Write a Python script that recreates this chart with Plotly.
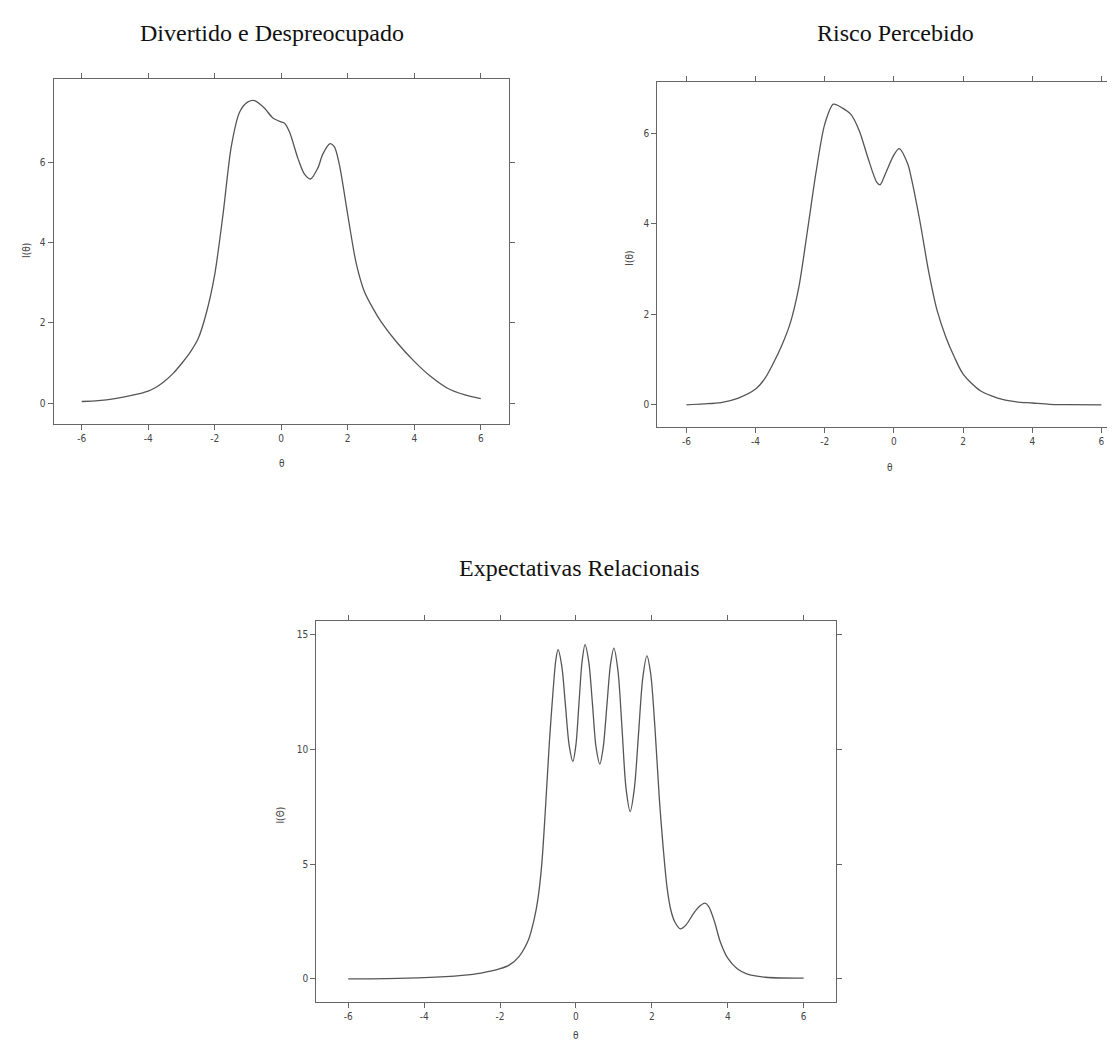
import plotly.graph_objects as go

W, H = 1115, 1043

# ---------------- data ----------------
titles = ["Divertido e Despreocupado", "Risco Percebido", "Expectativas Relacionais"]

theta1 = [-6, -5.5, -5, -4.5, -4, -3.75, -3.5, -3.25, -3, -2.75, -2.5, -2.25, -2, -1.75,
          -1.5, -1.25, -1.0, -0.8, -0.5, -0.25, 0, 0.1, 0.25, 0.5, 0.7, 0.88, 1.1, 1.25,
          1.47, 1.6, 1.75, 2.0, 2.25, 2.5, 2.75, 3, 3.5, 4, 4.5, 5, 5.5, 6]
info1 = [0.04, 0.06, 0.11, 0.19, 0.3, 0.4, 0.55, 0.74, 0.98, 1.25, 1.6, 2.25, 3.2, 4.7,
         6.4, 7.25, 7.5, 7.53, 7.34, 7.1, 7.0, 6.97, 6.75, 6.1, 5.7, 5.58, 5.85, 6.2,
         6.46, 6.38, 5.93, 4.69, 3.5, 2.78, 2.37, 2.03, 1.49, 1.04, 0.66, 0.37, 0.21, 0.11]

theta2 = [-6, -5.5, -5, -4.5, -4, -3.75, -3.5, -3.25, -3, -2.75, -2.5, -2.25, -2, -1.75,
          -1.5, -1.25, -1.0, -0.75, -0.5, -0.4, -0.25, 0, 0.15, 0.4, 0.5, 0.75, 1.0,
          1.25, 1.5, 1.75, 2, 2.5, 3, 3.5, 4, 4.5, 5, 6]
info2 = [0.0, 0.02, 0.05, 0.15, 0.35, 0.56, 0.9, 1.3, 1.8, 2.6, 3.85, 5.15, 6.2, 6.64,
         6.56, 6.42, 6.05, 5.45, 4.92, 4.86, 5.1, 5.52, 5.66, 5.32, 5.02, 4.06, 2.96,
         2.08, 1.5, 1.05, 0.68, 0.31, 0.15, 0.07, 0.04, 0.01, 0.005, 0.0]

theta3 = [-6, -5, -4, -3, -2.5, -2, -1.75, -1.5, -1.25, -1.1, -1.0, -0.9, -0.8, -0.7,
          -0.6, -0.53, -0.47, -0.37, -0.275, -0.18, -0.08, 0.0, 0.08, 0.16, 0.24, 0.34,
          0.435, 0.53, 0.63, 0.72, 0.815, 0.91, 1.0, 1.11, 1.215, 1.32, 1.43, 1.54, 1.65,
          1.76, 1.87, 1.97, 2.08, 2.2, 2.3, 2.4, 2.5, 2.6, 2.75, 2.9, 3.1, 3.25, 3.4, 3.5,
          3.65, 3.8, 4.0, 4.25, 4.5, 5.0, 6.0]
info3 = [0.0, 0.01, 0.05, 0.15, 0.25, 0.44, 0.61, 0.97, 1.7, 2.6, 3.5, 5.0, 7.5, 10.3,
         12.6, 13.9, 14.35, 13.6, 11.9, 10.2, 9.48, 10.2, 12.0, 13.8, 14.57, 13.8,
         12.0, 10.1, 9.36, 10.1, 11.9, 13.7, 14.42, 13.4, 10.9, 8.3, 7.29, 8.3, 10.7,
         13.1, 14.08, 13.3, 11.0, 7.8, 5.7, 4.0, 3.0, 2.5, 2.18, 2.35, 2.85, 3.15, 3.3,
         3.15, 2.5, 1.63, 0.9, 0.44, 0.22, 0.07, 0.03]

x_ticks = [-6, -4, -2, 0, 2, 4, 6]
x_tick_labels = ["-6", "-4", "-2", "0", "2", "4", "6"]
y_ticks_small = [0, 2, 4, 6]
y_ticks_small_labels = ["0", "2", "4", "6"]
y_ticks_big = [0, 5, 10, 15]
y_ticks_big_labels = ["0", "5", "10", "15"]

# ---------------- layout geometry (pixels) ----------------
panels = [
    dict(box=(46, 503.4, 71, 416), xr=[-6.84, 6.84], yr=[-0.52, 8.07],
         yt=y_ticks_small, ytl=y_ticks_small_labels, x=theta1, y=info1,
         title_xy=(265, 25), ylab_xy=(19, 242), xlab_xy=(275, 456), ylab="I(θ)"),
    dict(box=(652.9, 1115, 74, 419), xr=[-6.84, 6.45], yr=[-0.49, 7.13],
         yt=y_ticks_small, ytl=y_ticks_small_labels, x=theta2, y=info2,
         title_xy=(892, 25), ylab_xy=(624, 250), xlab_xy=(887, 459), ylab="I(θ)"),
    dict(box=(310, 832, 613, 994), xr=[-6.84, 6.84], yr=[-1.01, 15.6],
         yt=y_ticks_big, ytl=y_ticks_big_labels, x=theta3, y=info3,
         title_xy=(575, 560), ylab_xy=(273, 807), xlab_xy=(571, 1027), ylab="I(Θ)"),
]

fig = go.Figure()
tick_font = dict(family="Liberation Sans Narrow, DejaVu Sans Condensed, Arial", size=10, color="#444")
axis_color = "#666"
annotations = []

for i, p in enumerate(panels, start=1):
    x0, x1, y0, y1 = p["box"]
    xa = "x" if i == 1 else f"x{i}"
    ya = "y" if i == 1 else f"y{i}"
    fig.add_trace(go.Scatter(
        x=p["x"], y=p["y"], mode="lines",
        line=dict(color="#555", width=1.3, shape="spline", smoothing=0.8),
        xaxis=xa, yaxis=ya, showlegend=False, hoverinfo="skip"))
    common = dict(showgrid=False, zeroline=False, showline=True, linecolor=axis_color, linewidth=1.3,
                  mirror="allticks", ticks="outside", ticklen=5, tickwidth=1, tickcolor=axis_color,
                  tickfont=tick_font, fixedrange=True)
    fig.layout[("xaxis" if i == 1 else f"xaxis{i}")] = dict(
        domain=[x0 / W, min(x1 / W, 1.0)], range=p["xr"], anchor=ya,
        tickmode="array", tickvals=x_ticks, ticktext=x_tick_labels, **common)
    fig.layout[("yaxis" if i == 1 else f"yaxis{i}")] = dict(
        domain=[1 - y1 / H, 1 - y0 / H], range=p["yr"], anchor=xa,
        tickmode="array", tickvals=p["yt"], ticktext=p["ytl"], **common)
    tx, ty = p["title_xy"]
    annotations.append(dict(text=titles[i - 1], x=tx / W, y=1 - ty / H, xref="paper", yref="paper",
                            showarrow=False, xanchor="center", yanchor="middle",
                            font=dict(family="Liberation Serif, Times New Roman, serif", size=24, color="#111")))
    lx, ly = p["ylab_xy"]
    annotations.append(dict(text=p["ylab"], x=lx / W, y=1 - ly / H, xref="paper", yref="paper",
                            showarrow=False, xanchor="center", yanchor="middle", textangle=-90,
                            font=dict(family="DejaVu Sans Condensed, Arial", size=10, color="#444")))
    bx, by = p["xlab_xy"]
    annotations.append(dict(text="θ", x=bx / W, y=1 - by / H, xref="paper", yref="paper",
                            showarrow=False, xanchor="center", yanchor="middle",
                            font=dict(family="DejaVu Sans Condensed, Arial", size=10, color="#444")))

fig.update_layout(width=W, height=H, margin=dict(l=0, r=0, t=0, b=0),
                  paper_bgcolor="white", plot_bgcolor="white", annotations=annotations)

fig.write_html("out.html")
